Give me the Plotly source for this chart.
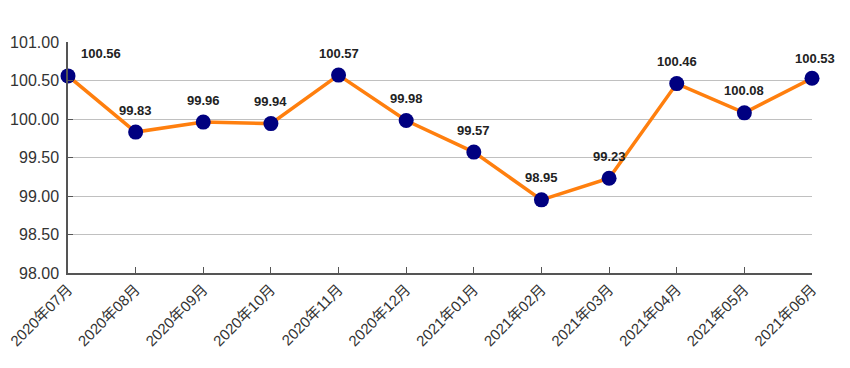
import plotly.graph_objects as go

months = ["2020年07月", "2020年08月", "2020年09月", "2020年10月", "2020年11月", "2020年12月",
          "2021年01月", "2021年02月", "2021年03月", "2021年04月", "2021年05月", "2021年06月"]
values = [100.56, 99.83, 99.96, 99.94, 100.57, 99.98, 99.57, 98.95, 99.23, 100.46, 100.08, 100.53]
y_ticks = [98.0, 98.5, 99.0, 99.5, 100.0, 100.5, 101.0]

font_fam = "Liberation Sans, Arial, Noto Sans CJK SC, sans-serif"

fig = go.Figure()
fig.add_trace(go.Scatter(
    x=months, y=values, mode="lines+markers",
    line=dict(color="#FF7F0E", width=3.5),
    marker=dict(color="#000080", size=15),
    cliponaxis=False, showlegend=False, hoverinfo="x+y",
))

n = len(months)
for i, (m, v) in enumerate(zip(months, values)):
    xshift = 0
    if i == 0:
        xshift = 33
    elif i == n - 1:
        xshift = 3
    fig.add_annotation(
        x=m, y=v, text=f"<b>{v:.2f}</b>", showarrow=False,
        yshift=22 if i != n - 1 else 20, xshift=xshift,
        font=dict(family=font_fam, size=13, color="#222"),
    )

fig.update_layout(
    width=850, height=368,
    margin=dict(l=60, r=46, t=34, b=103, autoexpand=False),
    paper_bgcolor="white", plot_bgcolor="white",
    font=dict(family=font_fam, color="#333"),
)
fig.update_xaxes(
    type="category", range=[0, n - 1], automargin=False,
    tickangle=-45, tickfont=dict(size=15, color="#333"),
    showline=True, linecolor="#555", linewidth=1.5,
    ticks="inside", ticklen=6, tickcolor="#555",
    showgrid=False, zeroline=False,
)
fig.update_yaxes(
    range=[98, 101], tickvals=y_ticks, ticktext=[f"{t:.2f}" for t in y_ticks],
    automargin=False, ticklabelstandoff=4,
    tickfont=dict(size=16, color="#333"),
    showline=True, linecolor="#555", linewidth=1.5,
    ticks="inside", ticklen=5, tickcolor="#555",
    showgrid=True, gridcolor="#c0c0c0", gridwidth=1.2, zeroline=False,
)

fig.write_html("out.html")
